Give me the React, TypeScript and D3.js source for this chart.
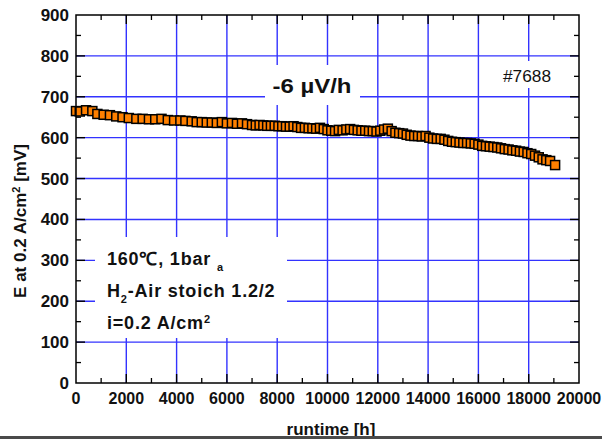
import React from "react";
import * as d3 from "d3";

const runtimeH = [0, 150, 400, 650, 850, 1100, 1350, 1600, 1850, 2100, 2400, 2650, 2900, 3150, 3400, 3650, 3900, 4150, 4350, 4600, 4800, 5000, 5200, 5400, 5600, 5800, 6000, 6200, 6400, 6600, 6800, 7000, 7150, 7300, 7450, 7600, 7750, 7900, 8050, 8200, 8350, 8500, 8650, 8800, 8950, 9100, 9250, 9400, 9550, 9700, 9850, 10000, 10150, 10300, 10450, 10600, 10750, 10900, 11050, 11200, 11350, 11500, 11650, 11800, 11950, 12100, 12250, 12400, 12550, 12700, 12850, 13000, 13150, 13300, 13450, 13600, 13750, 13900, 14050, 14200, 14350, 14500, 14650, 14800, 14950, 15100, 15250, 15400, 15550, 15700, 15850, 16000, 16150, 16300, 16450, 16600, 16750, 16900, 17050, 17200, 17350, 17500, 17650, 17800, 17950, 18100, 18250, 18400, 18550, 18700, 18850, 19050];
const voltageMV = [665, 664, 667, 665, 658, 656, 655, 652, 650, 648, 646, 646, 645, 645, 646, 643, 642, 642, 641, 640, 638, 638, 637, 637, 636, 638, 635, 636, 634, 635, 633, 631, 630, 631, 630, 629, 629, 629, 628, 628, 627, 627, 628, 626, 624, 624, 623, 623, 622, 624, 621, 618, 617, 616, 619, 618, 620, 621, 619, 618, 617, 617, 616, 616, 615, 617, 620, 622, 616, 612, 611, 610, 607, 605, 604, 604, 603, 604, 600, 598, 597, 597, 595, 592, 590, 589, 588, 587, 587, 586, 585, 583, 580, 579, 578, 577, 576, 574, 572, 571, 569, 568, 566, 565, 562, 560, 556, 552, 547, 545, 543, 533];

const xTicks = [0, 2000, 4000, 6000, 8000, 10000, 12000, 14000, 16000, 18000, 20000];
const yTicks = [0, 100, 200, 300, 400, 500, 600, 700, 800, 900];
const xMinor = [1000, 3000, 5000, 7000, 9000, 11000, 13000, 15000, 17000, 19000];
const yMinor = [50, 150, 250, 350, 450, 550, 650, 750, 850];

const FONT = "'Liberation Sans', Arial, sans-serif";
const L = 76, R = 579, T = 15, B = 383;

export default function App() {
  const x = d3.scaleLinear().domain([0, 20000]).range([L, R]);
  const y = d3.scaleLinear().domain([0, 900]).range([B, T]);
  const grid = "#3333ff";
  const ms = 9;
  return (
    <svg width={602} height={439} style={{ position: "absolute", left: 0, top: 0 }} fontFamily={FONT}>
      <rect x={0} y={0} width={602} height={439} fill="#fff" />
      {/* gridlines */}
      {xTicks.slice(1, -1).map((t) => (
        <line key={"gx" + t} x1={x(t)} x2={x(t)} y1={T} y2={B} stroke={grid} strokeWidth={1.4} />
      ))}
      {yTicks.slice(1, -1).map((t) => (
        <line key={"gy" + t} x1={L} x2={R} y1={y(t)} y2={y(t)} stroke={grid} strokeWidth={1.4} />
      ))}
      {/* white boxes behind annotations */}
      <rect x={265} y={65} width={95} height={40} fill="#fff" />
      <rect x={498} y={61} width={60} height={27} fill="#fff" />
      <rect x={95} y={237} width={192} height={101} fill="#fff" />
      {/* data */}
      {runtimeH.map((t, i) => (
        <rect key={"p" + i} x={x(t) - ms / 2} y={y(voltageMV[i]) - ms / 2} width={ms} height={ms}
          fill="#ff8000" stroke="#000" strokeWidth={1.5} />
      ))}
      {/* frame */}
      <rect x={L} y={T} width={R - L} height={B - T} fill="none" stroke="#000" strokeWidth={1.5} />
      {/* ticks */}
      {xTicks.slice(1, -1).map((t) => (
        <g key={"tx" + t}>
          <line x1={x(t)} x2={x(t)} y1={B} y2={B - 9} stroke="#000" strokeWidth={1.4} />
          <line x1={x(t)} x2={x(t)} y1={T} y2={T + 9} stroke="#000" strokeWidth={1.4} />
        </g>
      ))}
      {xMinor.map((t) => (
        <g key={"mx" + t}>
          <line x1={x(t)} x2={x(t)} y1={B} y2={B - 5} stroke="#000" strokeWidth={1.3} />
          <line x1={x(t)} x2={x(t)} y1={T} y2={T + 5} stroke="#000" strokeWidth={1.3} />
        </g>
      ))}
      {yTicks.slice(1, -1).map((t) => (
        <g key={"ty" + t}>
          <line x1={L} x2={L + 9} y1={y(t)} y2={y(t)} stroke="#000" strokeWidth={1.4} />
          <line x1={R} x2={R - 9} y1={y(t)} y2={y(t)} stroke="#000" strokeWidth={1.4} />
        </g>
      ))}
      {yMinor.map((t) => (
        <g key={"my" + t}>
          <line x1={L} x2={L + 5} y1={y(t)} y2={y(t)} stroke="#000" strokeWidth={1.3} />
          <line x1={R} x2={R - 5} y1={y(t)} y2={y(t)} stroke="#000" strokeWidth={1.3} />
        </g>
      ))}
      {/* tick labels */}
      {xTicks.map((t) => (
        <text key={"lx" + t} x={x(t)} y={404} textAnchor="middle" fontSize={16} fontWeight="bold" fill="#111">
          {t}
        </text>
      ))}
      {yTicks.map((t) => (
        <text key={"ly" + t} x={69} y={y(t) + 6} textAnchor="end" fontSize={17} fontWeight="bold" fill="#111">
          {t}
        </text>
      ))}
      {/* axis titles */}
      <text transform="translate(26,221) rotate(-90)" textAnchor="middle" fontSize={17} fontWeight="bold" fill="#111">
        E at 0.2 A/cm<tspan fontSize={11} dy={-6}>2</tspan><tspan dy={6}> [mV]</tspan>
      </text>
      <text x={331} y={435} textAnchor="middle" fontSize={17} fontWeight="bold" fill="#111">runtime [h]</text>
      {/* annotations */}
      <text x={312} y={93} textAnchor="middle" fontSize={20} fontWeight="bold" fill="#111" textLength={79} lengthAdjust="spacingAndGlyphs">-6 µV/h</text>
      <text x={527} y={82} textAnchor="middle" fontSize={17} fill="#111" textLength={48} lengthAdjust="spacingAndGlyphs">#7688</text>
      <g fontSize={18} fontWeight="bold" fill="#111" letterSpacing={0.8}>
        <text x={107} y={265}>160℃, 1bar<tspan fontSize={11} dx={6} dy={6}>a</tspan></text>
        <text x={107} y={297}>H<tspan fontSize={11} dy={6}>2</tspan><tspan dy={-6}>-Air stoich 1.2/2</tspan></text>
        <text x={107} y={329}>i=0.2 A/cm<tspan fontSize={11} dy={-6}>2</tspan></text>
      </g>
      {/* bottom bar */}
      <rect x={0} y={436} width={602} height={3} fill="#4a4a4a" />
    </svg>
  );
}
